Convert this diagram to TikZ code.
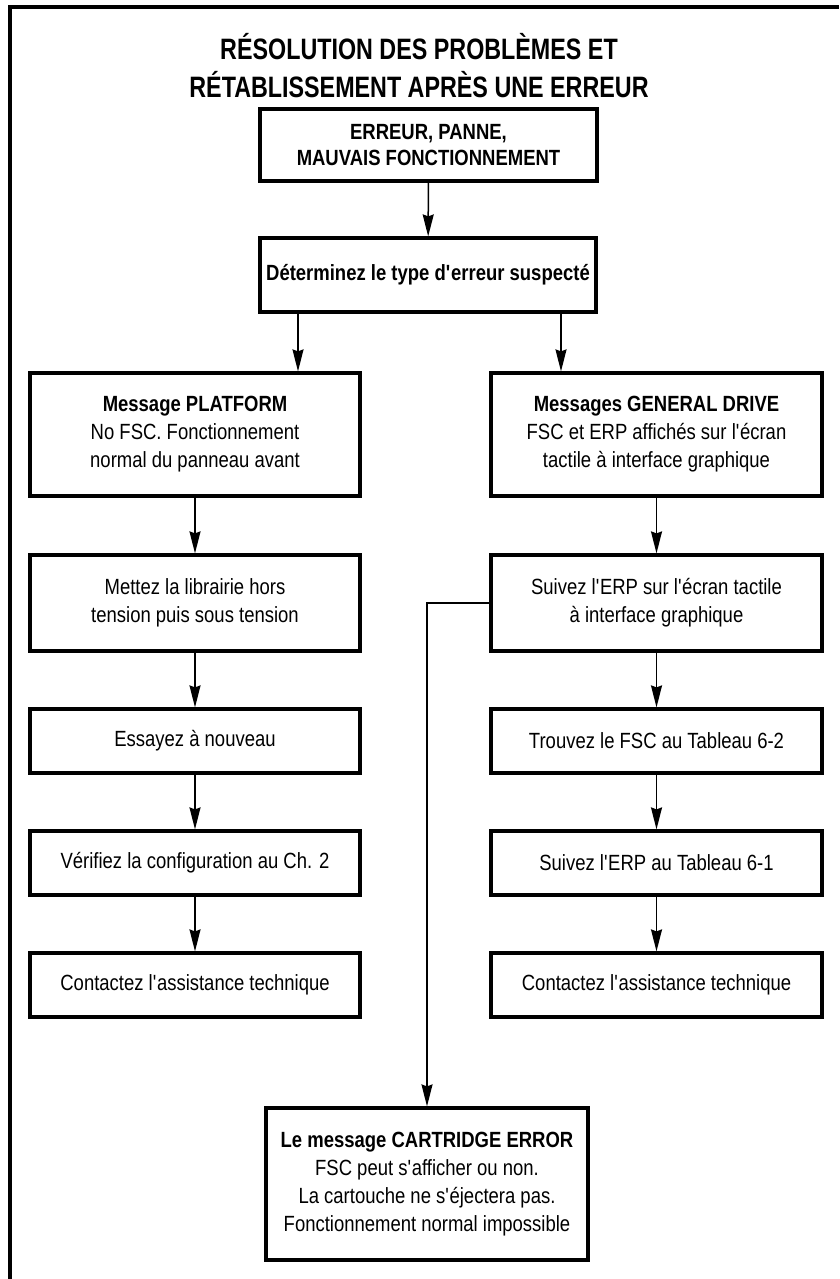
\documentclass[tikz,border=0pt]{standalone}
\usepackage{fontspec}
\setmainfont{Liberation Sans}[FakeStretch=0.84]
\newfontfamily\headfont{Liberation Sans}[FakeStretch=0.79]
\usetikzlibrary{arrows.meta}

% straight apostrophe
\newcommand{\ap}{\textquotesingle}

\tikzset{
  box/.style={draw, line width=3.2pt, fill=white, align=center, inner sep=0pt,
              font=\fontsize{22}{28}\selectfont},
  arr/.style={line width=1.5pt, -{Stealth[length=22pt, width=11pt, inset=2pt]}},
  frame/.style={line width=3.2pt},
  heading/.style={align=center, font=\headfont\fontsize{29.5}{38}\selectfont\bfseries}
}

\begin{document}
\begin{tikzpicture}[x=1pt, y=-1pt]
  \useasboundingbox (0,0) rectangle (839,1279);

  % page frame (top and left rules)
  \draw[frame] (10,1279) -- (10,7) -- (839,7);

  \node[heading] (title) at (419,66)
    {RÉSOLUTION DES PROBLÈMES ET\\RÉTABLISSEMENT APRÈS UNE ERREUR};

  % entry point
  \node[box, minimum width=337pt, minimum height=72pt, font=\fontsize{22}{26}\selectfont\bfseries]
    (err) at (428.5,145) {ERREUR, PANNE,\\MAUVAIS FONCTIONNEMENT};
  \node[box, minimum width=336pt, minimum height=74pt, font=\fontsize{22}{28}\selectfont\bfseries]
    (type) at (428,275) {Déterminez le type d\ap erreur suspecté};

  % left branch
  \node[box, minimum width=330pt, minimum height=123pt] (l1) at (195,434.5)
    {\textbf{Message PLATFORM}\\No FSC. Fonctionnement\\normal du panneau avant};
  \node[box, minimum width=330pt, minimum height=96pt] (l2) at (195,603)
    {Mettez la librairie hors\\tension puis sous tension};
  \node[box, minimum width=330pt, minimum height=64pt] (l3) at (195,741)
    {Essayez à nouveau};
  \node[box, minimum width=330pt, minimum height=64pt] (l4) at (195,863)
    {Vérifiez la configuration au Ch. 2};
  \node[box, minimum width=330pt, minimum height=64pt] (l5) at (195,985)
    {Contactez l\ap assistance technique};

  % right branch
  \node[box, minimum width=331pt, minimum height=123pt] (r1) at (656.5,434.5)
    {\textbf{Messages GENERAL DRIVE}\\FSC et ERP affichés sur l\ap écran\\tactile à interface graphique};
  \node[box, minimum width=331pt, minimum height=96pt] (r2) at (656.5,603)
    {Suivez l\ap ERP sur l\ap écran tactile\\à interface graphique};
  \node[box, minimum width=331pt, minimum height=64pt] (r3) at (656.5,741)
    {Trouvez le FSC au Tableau 6-2};
  \node[box, minimum width=331pt, minimum height=64pt] (r4) at (656.5,863)
    {Suivez l\ap ERP au Tableau 6-1};
  \node[box, minimum width=331pt, minimum height=64pt] (r5) at (656.5,985)
    {Contactez l\ap assistance technique};

  % cartridge error
  \node[box, minimum width=322pt, minimum height=152pt] (cart) at (427,1184)
    {\textbf{Le message CARTRIDGE ERROR}\\FSC peut s\ap afficher ou non.\\La cartouche ne s\ap éjectera pas.\\Fonctionnement normal impossible};

  % branch points under the decision box
  \coordinate (dl) at (298,0);
  \coordinate (dr) at (561,0);

  \draw[arr] (err) -- (type);
  \draw[arr] (type.south -| dl) -- (l1.north -| dl);
  \draw[arr] (type.south -| dr) -- (r1.north -| dr);

  \draw[arr] (l1) -- (l2);
  \draw[arr] (l2) -- (l3);
  \draw[arr] (l3) -- (l4);
  \draw[arr] (l4) -- (l5);

  \draw[arr] (r1) -- (r2);
  \draw[arr] (r2) -- (r3);
  \draw[arr] (r3) -- (r4);
  \draw[arr] (r4) -- (r5);

  \draw[arr] (r2.west) -| (cart.north);
\end{tikzpicture}
\end{document}
